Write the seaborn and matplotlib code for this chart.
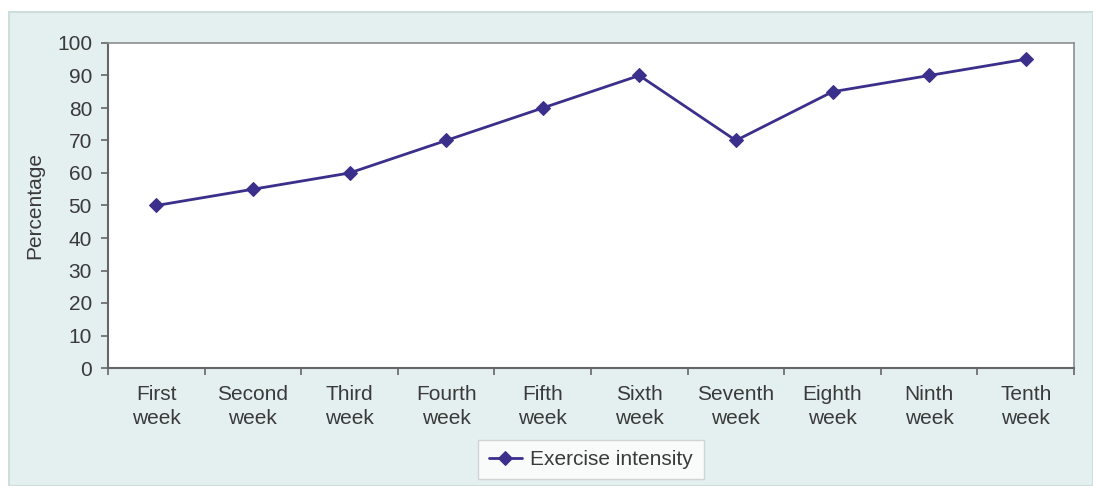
import matplotlib
matplotlib.use("Agg")
import matplotlib.pyplot as plt
from matplotlib.patches import Rectangle
from matplotlib.ticker import FixedLocator
import numpy as np
import pandas as pd
import seaborn as sns

weeks = ["First\nweek", "Second\nweek", "Third\nweek", "Fourth\nweek", "Fifth\nweek",
         "Sixth\nweek", "Seventh\nweek", "Eighth\nweek", "Ninth\nweek", "Tenth\nweek"]
intensity = [50, 55, 60, 70, 80, 90, 70, 85, 90, 95]
y_ticks = [0, 10, 20, 30, 40, 50, 60, 70, 80, 90, 100]

sns.set_theme(style="white")
plt.rcParams["font.family"] = ["Liberation Sans", "DejaVu Sans"]

W, H = 1093, 486
fig = plt.figure(figsize=(W / 100, H / 100), dpi=100)
fig.patch.set_facecolor("white")
# tinted panel behind the chart
fig.patches.append(Rectangle((9 / W, 0), 1 - 9 / W, 1 - 12 / H, transform=fig.transFigure,
                             facecolor="#e4efef", edgecolor="#cfdcdc", linewidth=1.5,
                             zorder=-10))

ax = fig.add_axes([108 / W, 1 - 368 / H, (1074 - 108) / W, (368 - 43) / H])
ax.set_zorder(1)
ax.set_facecolor("white")

df = pd.DataFrame({"Week": weeks, "Percentage": intensity})
sns.lineplot(data=df, x="Week", y="Percentage", ax=ax, color="#3b2f8c", linewidth=2,
             marker="D", markersize=7.5, markeredgecolor="#3b2f8c", sort=False,
             label="Exercise intensity")

FS = 15
ax.set_xlim(-0.5, len(weeks) - 0.5)
ax.set_ylim(0, 100)
ax.set_yticks(y_ticks)
ax.set_xticks(range(len(weeks)))
ax.set_xticklabels(weeks, fontsize=FS, color="#3a3a3a", linespacing=1.38)
ax.xaxis.set_minor_locator(FixedLocator(np.arange(-0.5, len(weeks), 1.0)))
ax.tick_params(axis="x", which="major", length=0, pad=12)
ax.tick_params(axis="x", which="minor", length=5, width=1.2, color="#666666", bottom=True)
ax.tick_params(axis="y", length=5, width=1.2, color="#666666", labelsize=FS,
               labelcolor="#3a3a3a", pad=6.5, left=True)
ax.set_xlabel("")
ax.set_ylabel("Percentage", fontsize=FS, color="#3a3a3a", labelpad=9)

for side in ["left", "bottom"]:
    ax.spines[side].set_color("#666666")
    ax.spines[side].set_linewidth(1.5)
for side in ["top", "right"]:
    ax.spines[side].set_color("#8a9090")
    ax.spines[side].set_linewidth(1.2)

leg = ax.legend(loc="upper center", bbox_to_anchor=(0.5, -0.22), frameon=True,
                fontsize=FS, handlelength=1.6, handletextpad=0.4, borderpad=0.5,
                borderaxespad=0, fancybox=False, edgecolor="#c8cccc")
leg.get_frame().set_linewidth(1.0)
for t in leg.get_texts():
    t.set_color("#3a3a3a")

fig.savefig("out.png", dpi=100, facecolor=fig.get_facecolor())
